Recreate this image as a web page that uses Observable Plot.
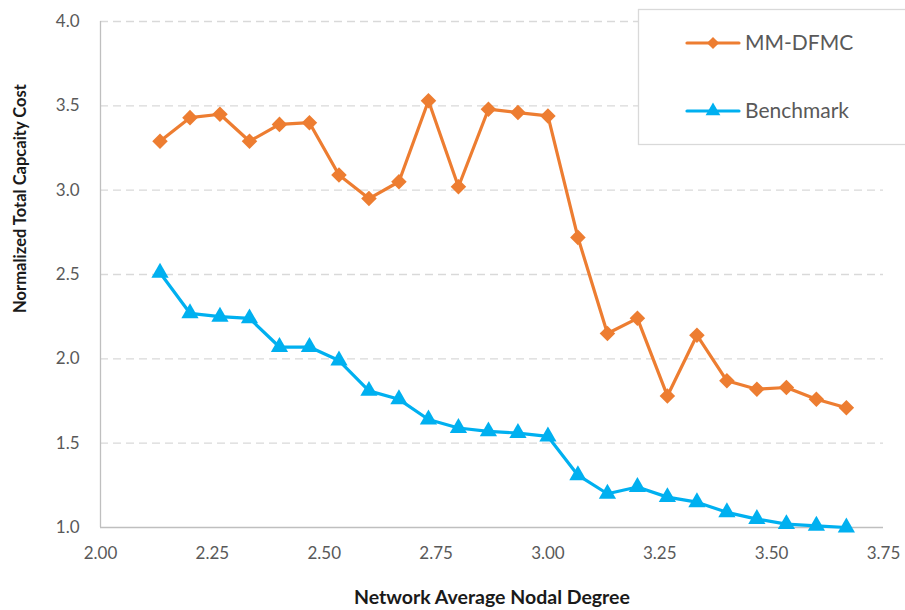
<!DOCTYPE html>
<html>
<head>
<meta charset="utf-8">
<script src="https://cdn.jsdelivr.net/npm/d3@7"></script>
<script src="https://cdn.jsdelivr.net/npm/@observablehq/plot@0.6"></script>
<style>
  html, body { margin: 0; padding: 0; background: #fff; }
  #chart { width: 905px; height: 610px; }
</style>
</head>
<body>
<div id="chart"></div>
<script>
// ---- data ----
const degree = [2.133, 2.2, 2.267, 2.333, 2.4, 2.467, 2.533, 2.6, 2.667, 2.733, 2.8, 2.867,
                2.933, 3.0, 3.067, 3.133, 3.2, 3.267, 3.333, 3.4, 3.467, 3.533, 3.6, 3.667];
const mmdfmc = [3.29, 3.43, 3.45, 3.29, 3.39, 3.40, 3.09, 2.95, 3.05, 3.53, 3.02, 3.48,
                3.46, 3.44, 2.72, 2.15, 2.24, 1.78, 2.14, 1.87, 1.82, 1.83, 1.76, 1.71];
const benchmark = [2.51, 2.27, 2.25, 2.24, 2.07, 2.07, 1.99, 1.81, 1.76, 1.64, 1.59, 1.57,
                   1.56, 1.54, 1.31, 1.20, 1.24, 1.18, 1.15, 1.09, 1.05, 1.02, 1.01, 1.00];
const xTicks = [2.00, 2.25, 2.50, 2.75, 3.00, 3.25, 3.50, 3.75];
const yTicks = [1.0, 1.5, 2.0, 2.5, 3.0, 3.5, 4.0];
const seriesNames = ["MM-DFMC", "Benchmark"];
const seriesColors = ["#ED7D31", "#00B0F0"];
const xTitle = "Network Average Nodal Degree";
const yTitle = "Normalized Total Capcaity Cost";

const rowsA = degree.map((d, i) => ({x: d, y: mmdfmc[i]}));
const rowsB = degree.map((d, i) => ({x: d, y: benchmark[i]}));

const plot = Plot.plot({
  width: 905,
  height: 610,
  marginLeft: 100,
  marginRight: 22,
  marginTop: 21,
  marginBottom: 83,
  style: {fontFamily: "Lato, 'Open Sans', sans-serif", fontSize: "17px", color: "#595959", background: "#fff"},
  x: {domain: [2, 3.75]},
  y: {domain: [1, 4]},
  marks: [
    Plot.ruleY(yTicks.filter(v => v > 1), {stroke: "#D9D9D9", strokeWidth: 1.3, strokeDasharray: "8,5"}),
    Plot.ruleY([1], {stroke: "#BFBFBF", strokeWidth: 1.3}),
    Plot.ruleX([2], {stroke: "#BFBFBF", strokeWidth: 1.3}),
    Plot.axisX({ticks: xTicks, tickFormat: d3.format(".2f"), tickSize: 0, tickPadding: 19, label: null, fill: "#595959"}),
    Plot.axisY({ticks: yTicks, tickFormat: d3.format(".1f"), tickSize: 0, tickPadding: 21, label: null, fill: "#595959"}),
    Plot.line(rowsA, {x: "x", y: "y", stroke: seriesColors[0], strokeWidth: 3.2}),
    Plot.dot(rowsA, {x: "x", y: "y", symbol: "diamond2", r: 7, fill: seriesColors[0], stroke: "none"}),
    Plot.line(rowsB, {x: "x", y: "y", stroke: seriesColors[1], strokeWidth: 3.2}),
    Plot.dot(rowsB, {x: "x", y: "y", symbol: "triangle", r: 6.4, fill: seriesColors[1], stroke: "none"}),
    Plot.text([xTitle], {frameAnchor: "bottom", dy: 70, text: d => d, textAnchor: "middle", lineAnchor: "middle",
                         fontWeight: "bold", fontSize: 19.5, fill: "#1a1a1a"}),
    Plot.text([yTitle], {frameAnchor: "left", dx: -80, dy: -76, rotate: -90, text: d => d, textAnchor: "middle",
                         lineAnchor: "middle", fontWeight: "bold", fontSize: 16.5, fill: "#1a1a1a"})
  ]
});

// ---- legend (drawn into the same SVG) ----
const svg = d3.select(plot);
const lg = svg.append("g").attr("text-anchor", "start");
lg.append("rect").attr("x", 638.5).attr("y", 9.5).attr("width", 300).attr("height", 135)
  .attr("fill", "#fff").attr("stroke", "#D9D9D9").attr("stroke-width", 1.3);
const legendY = [43, 111];
const symbols = [d3.symbolDiamond2, d3.symbolTriangle];
const symSizes = [Math.PI * 30, Math.PI * 30];
seriesNames.forEach((name, i) => {
  const g = lg.append("g").attr("transform", `translate(0,${legendY[i]})`);
  g.append("line").attr("x1", 687).attr("x2", 739).attr("y1", 0).attr("y2", 0)
    .attr("stroke", seriesColors[i]).attr("stroke-width", 3.2).attr("stroke-linecap", "round");
  g.append("path").attr("d", d3.symbol(symbols[i], symSizes[i])())
    .attr("transform", "translate(713,0)").attr("fill", seriesColors[i]);
  g.append("text").attr("x", 745).attr("y", 0).attr("dy", "0.35em").attr("text-anchor", "start")
    .attr("font-size", 21).attr("fill", "#595959").text(name);
});

document.getElementById("chart").appendChild(plot);
</script>
</body>
</html>
